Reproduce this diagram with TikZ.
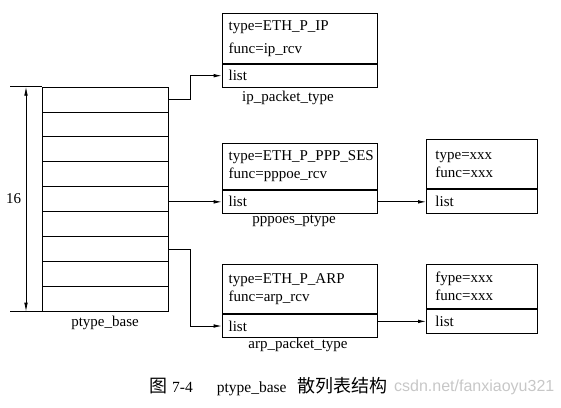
\documentclass[tikz,border=0pt]{standalone}
\usepackage{fontspec}
\setmainfont{Liberation Serif}
\newfontfamily\cjkfont{Noto Sans CJK SC}
\newfontfamily\wmfont{Liberation Sans}
\usetikzlibrary{arrows.meta,calc}
\begin{document}
\begin{tikzpicture}[x=1pt,y=-1pt,
  box/.style={draw, line width=0.9pt, anchor=north west, inner xsep=6.5pt, inner ysep=0pt, align=left, font=\fontsize{15}{18}\selectfont},
  rbox/.style={box, inner xsep=9pt},
  row/.style={draw, line width=0.9pt, minimum width=126.3pt, minimum height=24.89pt, anchor=north west, inner sep=0pt},
  conn/.style={line width=0.8pt, -{Latex[length=8pt,width=3.6pt]}},
  dimline/.style={line width=0.8pt, {Latex[length=9pt,width=3.6pt]}-{Latex[length=9pt,width=3.6pt]}},
  lbl/.style={font=\fontsize{15}{16}\selectfont, inner sep=0pt},
  ]
\useasboundingbox (0,0) rectangle (561,407);

% watermark
\node[font=\wmfont\fontsize{16}{18}\selectfont, text=black!22, anchor=west, inner sep=0pt] (wm) at (394,387) {csdn.net/fanxiaoyu321};

% ptype_base table
\foreach \i in {1,...,9}
  \node[row] (r\i) at (41.7, {86.7+(\i-1)*24.89}) {};
\node[lbl] (ptb) at (105,323) {ptype\_base};

% dimension
\coordinate (dx) at (26,0);
\coordinate (ex) at (10,0);
\draw[line width=0.8pt] (r1.north west -| ex) -- (r1.north west);
\draw[line width=0.8pt] (r9.south west -| ex) -- (r9.south west);
\draw[dimline] (r1.north west -| dx) -- (r9.south west -| dx);
\node[lbl] (n16) at (13.5,199) {16};

% ip_packet_type
\node[box, text width=142pt, minimum height=49.4pt, font=\fontsize{15}{23}\selectfont] (iph) at (221.7,13.3) {type=ETH\_P\_IP\\func=ip\_rcv};
\node[box, text width=142pt, minimum height=23.3pt] (ipl) at (iph.south west) {list};
\node[lbl] (ipn) at (288,98) {ip\_packet\_type};

% pppoes_ptype
\node[box, text width=142pt, minimum height=46.6pt] (pph) at (221.7,142.7) {type=ETH\_P\_PPP\_SES\\func=pppoe\_rcv};
\node[box, text width=142pt, minimum height=22.4pt] (ppl) at (pph.south west) {list};
\node[lbl] (ppn) at (294,221) {pppoes\_ptype};

\node[rbox, text width=92.7pt, minimum height=49pt] (xh) at (426,139.3) {type=xxx\\func=xxx};
\node[rbox, text width=92.7pt, minimum height=23.4pt] (xl) at (xh.south west) {list};

% arp_packet_type
\node[box, text width=142pt, minimum height=49.3pt] (arh) at (221.7,264) {type=ETH\_P\_ARP\\func=arp\_rcv};
\node[box, text width=142pt, minimum height=22.7pt] (arl) at (arh.south west) {list};
\node[lbl] (arn) at (298,345) {arp\_packet\_type};

\node[rbox, text width=92.7pt, minimum height=44.3pt] (fh) at (426,264) {fype=xxx\\func=xxx};
\node[rbox, text width=92.7pt, minimum height=23.4pt] (fl) at (fh.south west) {list};

% connectors
\draw[conn] (r1.east) -- ++(21,0) |- (ipl.west);
\draw[conn] (r5.east |- ppl.west) -- (ppl.west);
\draw[conn] (r7.east) -- ++(21,0) |- (arl.west);
\draw[conn] (ppl.east) -- (ppl.east -| xl.west);
\draw[conn] (arl.east |- fl.west) -- (fl.west);

% caption
\node[anchor=west, inner sep=0pt, font=\fontsize{15.5}{18}\selectfont] (cap) at (149,387)
  {{\cjkfont\fontsize{18}{20}\selectfont 图}\hspace{5pt}7-4\hspace{24pt}ptype\_base\hspace{11pt}{\cjkfont\fontsize{18}{20}\selectfont 散列表结构}};
\end{tikzpicture}
\end{document}
